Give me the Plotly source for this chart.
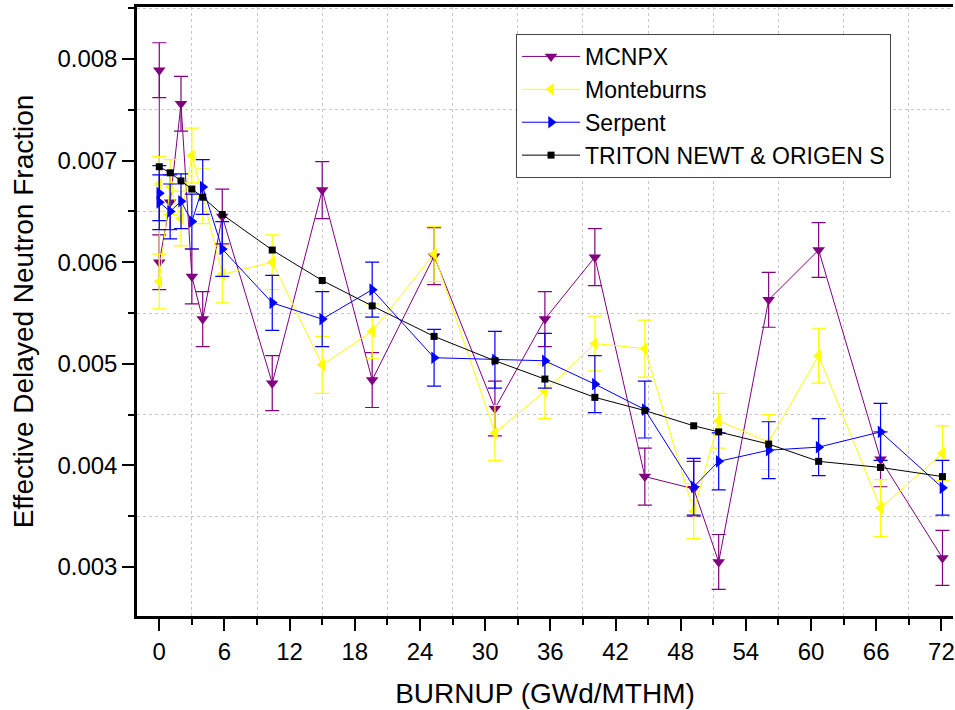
import plotly.graph_objects as go

# ---- data ----
x_triton = [0, 1, 2, 3, 4, 5.8, 10.4, 15.0, 19.6, 25.3, 30.9, 35.5, 40.1, 44.7, 49.2, 51.5, 56.1, 60.7, 66.4, 72.1]
y_triton = [0.00694, 0.00688, 0.00680, 0.00672, 0.00664, 0.00647, 0.00612, 0.00582, 0.00557, 0.00527,
            0.00503, 0.00485, 0.00467, 0.00454, 0.00439, 0.00433, 0.00421, 0.00404, 0.00398, 0.00389]

x_mc = [0, 0, 1, 2, 3, 4, 5.8, 10.4, 15.0, 19.6, 25.3, 30.9, 35.5, 40.1, 44.7, 49.2, 51.5, 56.1, 60.7, 66.4, 72.1]

y_mcnpx = [0.00789, 0.00600, 0.00659, 0.00756, 0.00586, 0.00544, 0.00645, 0.00481, 0.00671, 0.00484, 0.00606,
           0.00456, 0.00544, 0.00605, 0.00389, 0.00377, 0.00305, 0.00563, 0.00612, 0.00406, 0.00309]
e_mcnpx = [0.00027, 0.00027, 0.00027, 0.00027, 0.00027, 0.00027, 0.00027, 0.00027, 0.00028, 0.00027, 0.00028,
           0.00027, 0.00027, 0.00028, 0.00028, 0.00027, 0.00027, 0.00027, 0.00027, 0.00027, 0.00027]

y_monte = [0.00677, 0.00581, 0.00674, 0.00643, 0.00705, 0.00665, 0.00588, 0.00600, 0.00499, 0.00532, 0.00608,
           0.00432, 0.00473, 0.00520, 0.00515, 0.00355, 0.00444, 0.00423, 0.00508, 0.00358, 0.00412]
e_monte = [0.00027, 0.00027, 0.00027, 0.00027, 0.00027, 0.00027, 0.00028, 0.00027, 0.00028, 0.00027, 0.00027,
           0.00027, 0.00027, 0.00027, 0.00028, 0.00027, 0.00027, 0.00027, 0.00027, 0.00028, 0.00027]

y_serp = [0.00668, 0.00659, 0.00650, 0.00660, 0.00640, 0.00674, 0.00613, 0.00560, 0.00544, 0.00573, 0.00506,
          0.00504, 0.00503, 0.00480, 0.00455, 0.00379, 0.00404, 0.00415, 0.00418, 0.00433, 0.00378]
e_serp = [0.00027, 0.00027, 0.00027, 0.00027, 0.00027, 0.00027, 0.00027, 0.00027, 0.00027, 0.00027, 0.00028,
          0.00028, 0.00027, 0.00028, 0.00028, 0.00028, 0.00028, 0.00028, 0.00028, 0.00028, 0.00027]

FONT = "Liberation Sans, Arial, sans-serif"

fig = go.Figure()

def add_series(name, x, y, err, color, symbol, size):
    fig.add_trace(go.Scatter(
        x=x, y=y, name=name, mode="lines+markers",
        line=dict(color=color, width=1),
        marker=dict(symbol=symbol, size=size, color=color, line=dict(width=0)),
        error_y=dict(type="data", array=err, visible=True, color=color, thickness=1.2, width=7),
    ))

add_series("MCNPX", x_mc, y_mcnpx, e_mcnpx, "#800080", "triangle-down", 11)
add_series("Monteburns", x_mc, y_monte, e_monte, "#FFFF00", "triangle-left", 11)
add_series("Serpent", x_mc, y_serp, e_serp, "#0000FF", "triangle-right", 11)

fig.add_trace(go.Scatter(
    x=x_triton, y=y_triton, name="TRITON NEWT & ORIGEN S", mode="lines+markers",
    line=dict(color="#000000", width=1),
    marker=dict(symbol="square", size=7, color="#000000"),
))

fig.update_layout(
    width=955, height=710,
    margin=dict(l=137, r=0, t=7, b=94),
    paper_bgcolor="white", plot_bgcolor="white",
    font=dict(family=FONT, color="black"),
    showlegend=True,
    legend=dict(
        x=0.4645, y=0.9557, xanchor="left", yanchor="top",
        bordercolor="#444444", borderwidth=1, bgcolor="white",
        font=dict(family=FONT, size=23, color="black"),
        itemwidth=58, tracegroupgap=0,
    ),
)

fig.update_xaxes(
    range=[-2.05, 73.07],
    tickmode="linear", tick0=0, dtick=6,
    ticks="outside", ticklen=12, tickwidth=2, tickcolor="black",
    ticklabeloverflow="allow",
    showline=True, linewidth=2.5, linecolor="black", mirror=True,
    showgrid=False, zeroline=False,
    tickfont=dict(family=FONT, size=24, color="black"),
    title=dict(text="BURNUP (GWd/MTHM)", font=dict(family=FONT, size=28, color="black"), standoff=20),
    minor=dict(dtick=3, tick0=0, ticks="outside", ticklen=6, tickwidth=2, tickcolor="black",
               showgrid=True, gridcolor="#c8c8c8", griddash="dot", gridwidth=1),
)

fig.update_yaxes(
    range=[0.002518, 0.008512],
    tickmode="linear", tick0=0.003, dtick=0.001, tickformat=".3f",
    ticks="outside", ticklen=12, tickwidth=2, tickcolor="black",
    showline=True, linewidth=2.5, linecolor="black", mirror=False,
    showgrid=False, zeroline=False,
    tickfont=dict(family=FONT, size=24, color="black"),
    title=dict(text="Effective Delayed Neutron Fraction", font=dict(family=FONT, size=28, color="black"), standoff=16),
    minor=dict(dtick=0.0005, tick0=0.003, ticks="outside", ticklen=6, tickwidth=2, tickcolor="black",
               showgrid=True, gridcolor="#c8c8c8", griddash="dot", gridwidth=1),
)

fig.write_html("out.html")
